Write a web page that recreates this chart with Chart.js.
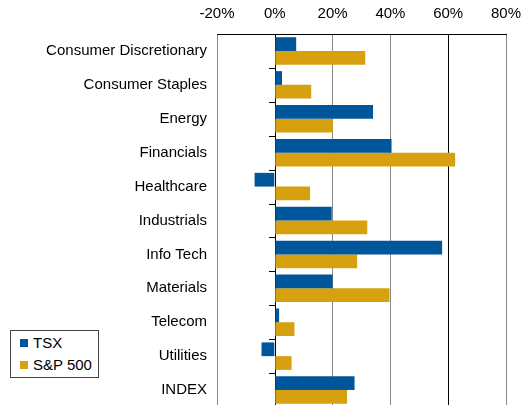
<!DOCTYPE html>
<html>
<head>
<meta charset="utf-8">
<script src="https://cdn.jsdelivr.net/npm/chart.js@4.4.0/dist/chart.umd.min.js"></script>
<style>
  body { margin: 0; background: #fff; overflow: hidden; }
  #wrap { position: relative; width: 525px; height: 405px; overflow: hidden; }
  #legend {
    position: absolute; left: 10px; top: 330px; width: 87px; height: 46px;
    border: 1px solid #444; background: #fff;
    font-family: "Liberation Sans", Arial, sans-serif; font-size: 15px; color: #000;
  }
  #legend div { position: relative; height: 22px; line-height: 22px; padding-left: 22px; }
  #legend div:first-child { margin-top: 1px; }
  #legend span { position: absolute; left: 9px; top: 7px; width: 8px; height: 8px; }
</style>
</head>
<body>
<div id="wrap">
  <canvas id="chart" width="525" height="426"></canvas>
  <div id="legend"></div>
</div>
<script>
// Kategorijas un vērtības (%)
var categories = ['Consumer Discretionary', 'Consumer Staples', 'Energy', 'Financials', 'Healthcare',
    'Industrials', 'Info Tech', 'Materials', 'Telecom', 'Utilities', 'INDEX'];
var tsxValues = [7.4, 2.5, 34, 40.4, -7, 19.7, 57.9, 20, 1.5, -4.6, 27.6];
var spValues = [31.3, 12.6, 20.1, 62.4, 12.2, 32, 28.5, 39.7, 6.8, 5.8, 25];
var seriesNames = ['TSX', 'S&P 500'];
var seriesColors = ['#00569A', '#D6A00F'];
var xTicks = [-20, 0, 20, 40, 60, 80];

var font = { family: '"Liberation Sans", Arial, sans-serif', size: 15 };

// Nulles līnija ar iedaļām
var zeroAxis = {
    id: 'zeroAxis',
    beforeDatasetsDraw: function (chart) {
        var ctx = chart.ctx;
        var x = Math.round(chart.scales.x.getPixelForValue(0));
        var area = chart.chartArea;
        var band = (area.bottom - area.top) / categories.length;
        ctx.save();
        ctx.strokeStyle = '#000';
        ctx.lineWidth = 1;
        ctx.beginPath();
        ctx.moveTo(x + 0.5, area.top);
        ctx.lineTo(x + 0.5, area.bottom);
        for (var i = 0; i <= categories.length; i++) {
            var ty = Math.round(area.top + i * band) + 0.5;
            ctx.moveTo(x - 6, ty);
            ctx.lineTo(x + 0.5, ty);
        }
        ctx.stroke();
        ctx.restore();
    }
};

var chart = new Chart(document.getElementById('chart').getContext('2d'), {
    type: 'bar',
    data: {
        labels: categories,
        datasets: [
            { label: seriesNames[0], data: tsxValues, backgroundColor: seriesColors[0] },
            { label: seriesNames[1], data: spValues, backgroundColor: seriesColors[1] }
        ]
    },
    options: {
        indexAxis: 'y',
        responsive: false,
        animation: false,
        datasets: { bar: { categoryPercentage: 0.81, barPercentage: 1.0 } },
        layout: { padding: { left: 0, right: 19, top: 0, bottom: 0 } },
        plugins: { legend: { display: false }, tooltip: { enabled: false } },
        scales: {
            x: {
                position: 'top',
                min: -20,
                max: 80,
                afterBuildTicks: function (s) { s.ticks = xTicks.map(function (v) { return { value: v }; }); },
                afterFit: function (s) { s.height = 34; s.paddingLeft = 0; s.paddingRight = 0; },
                ticks: {
                    color: '#000',
                    font: font,
                    padding: 11,
                    callback: function (v) { return v + '%'; }
                },
                grid: {
                    drawTicks: false,
                    lineWidth: 1,
                    color: function (c) {
                        if (c.tick && c.tick.value === 60) return '#000';
                        if (c.tick && c.tick.value === 0) return 'rgba(0,0,0,0)';
                        return '#888';
                    }
                },
                border: { display: true, color: '#000', width: 1 }
            },
            y: {
                afterFit: function (s) { s.width = 217; },
                ticks: { color: '#000', font: font, padding: 10 },
                grid: { display: false, drawTicks: false },
                border: { display: false }
            }
        }
    },
    plugins: [zeroAxis]
});

// HTML leģenda
var legend = document.getElementById('legend');
seriesNames.forEach(function (name, i) {
    var row = document.createElement('div');
    var sw = document.createElement('span');
    sw.style.background = seriesColors[i];
    row.appendChild(sw);
    row.appendChild(document.createTextNode(name));
    legend.appendChild(row);
});
</script>
</body>
</html>
